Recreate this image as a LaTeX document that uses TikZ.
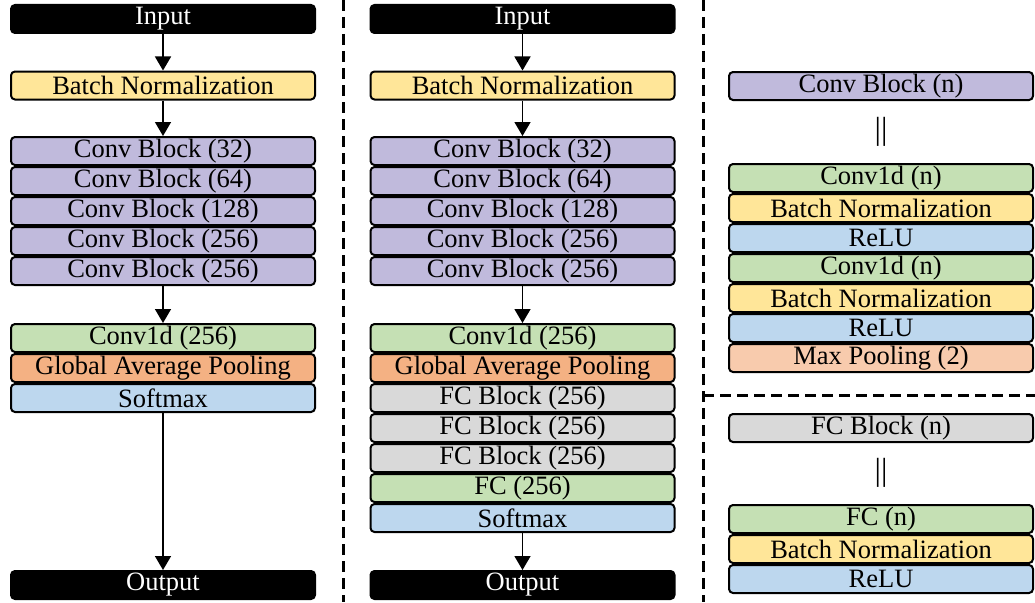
\documentclass[tikz,border=0pt]{standalone}
\usepackage{fontspec}
\setmainfont{Liberation Serif}
\newfontfamily\boxfont{Liberation Serif}
\usetikzlibrary{positioning}
\usetikzlibrary{arrows.meta}

\definecolor{cpurple}{RGB}{192,186,220}
\definecolor{cyellow}{RGB}{255,230,153}
\definecolor{cgreen}{RGB}{197,224,180}
\definecolor{corange}{RGB}{244,177,131}
\definecolor{cpeach}{RGB}{248,203,173}
\definecolor{cblue}{RGB}{189,215,238}
\definecolor{cgray}{RGB}{217,217,217}

\tikzset{blk/.style={draw, rounded corners=4pt, line width=2pt, minimum width=304pt,
    minimum height=28pt, inner sep=0pt, font=\boxfont\fontsize{26.5}{28}\selectfont}}
\tikzset{io/.style={blk, fill=black, text=white}}
\tikzset{conv/.style={blk, fill=cpurple}}
\tikzset{bn/.style={blk, fill=cyellow}}
\tikzset{lin/.style={blk, fill=cgreen}}
\tikzset{gap/.style={blk, fill=corange}}
\tikzset{pool/.style={blk, fill=cpeach}}
\tikzset{act/.style={blk, fill=cblue}}
\tikzset{fc/.style={blk, fill=cgray}}
\tikzset{flow/.style={-{Triangle[length=14pt,width=16pt]}, line width=1.5pt}}
\tikzset{sep/.style={line width=3pt, dash pattern=on 11pt off 6pt}}
\tikzset{eq/.style={inner sep=0pt, font=\boxfont\fontsize{32}{32}\selectfont}}

\begin{document}
\begin{tikzpicture}[x=1pt, y=-1pt]
\useasboundingbox (0,0) rectangle (1035,602);

% left network
\node[io] (in1) at (163,19) {Input};
\node[bn] (bn1) at (163,85.5) {Batch Normalization};
\node[conv] (c1a) at (163,151) {Conv Block (32)};
\node[conv] (c1b) [below=0pt of c1a] {Conv Block (64)};
\node[conv] (c1c) [below=0pt of c1b] {Conv Block (128)};
\node[conv] (c1d) [below=0pt of c1c] {Conv Block (256)};
\node[conv] (c1e) [below=0pt of c1d] {Conv Block (256)};
\node[lin] (cv1) at (163,338) {Conv1d (256)};
\node[gap] (gp1) [below=0pt of cv1] {Global Average Pooling};
\node[act] (sm1) [below=0pt of gp1] {Softmax};
\node[io] (out1) at (163,585) {Output};

\draw[flow] (in1) -- (bn1);
\draw[flow] (bn1) -- (c1a);
\draw[flow] (c1e) -- (cv1);
\draw[flow] (sm1) -- (out1);

% middle network
\node[io] (in2) at (522.5,19) {Input};
\node[bn] (bn2) at (522.5,85.5) {Batch Normalization};
\node[conv] (c2a) at (522.5,151) {Conv Block (32)};
\node[conv] (c2b) [below=0pt of c2a] {Conv Block (64)};
\node[conv] (c2c) [below=0pt of c2b] {Conv Block (128)};
\node[conv] (c2d) [below=0pt of c2c] {Conv Block (256)};
\node[conv] (c2e) [below=0pt of c2d] {Conv Block (256)};
\node[lin] (cv2) at (522.5,338) {Conv1d (256)};
\node[gap] (gp2) [below=0pt of cv2] {Global Average Pooling};
\node[fc] (f2a) [below=0pt of gp2] {FC Block (256)};
\node[fc] (f2b) [below=0pt of f2a] {FC Block (256)};
\node[fc] (f2c) [below=0pt of f2b] {FC Block (256)};
\node[lin] (fc2) [below=0pt of f2c] {FC (256)};
\node[act] (sm2) [below=0pt of fc2] {Softmax};
\node[io] (out2) at (522.5,585) {Output};

\draw[flow] (in2) -- (bn2);
\draw[flow] (bn2) -- (c2a);
\draw[flow] (c2e) -- (cv2);
\draw[flow] (sm2) -- (out2);

% conv block
\node[conv] (cb) at (881,86) {Conv Block (n)};
\node[eq] (eqc) at (881,132) {||};
\node[lin] (cbl1) at (881,178) {Conv1d (n)};
\node[bn] (cbn1) [below=0pt of cbl1] {Batch Normalization};
\node[act] (cbr1) [below=0pt of cbn1] {ReLU};
\node[lin] (cbl2) [below=0pt of cbr1] {Conv1d (n)};
\node[bn] (cbn2) [below=0pt of cbl2] {Batch Normalization};
\node[act] (cbr2) [below=0pt of cbn2] {ReLU};
\node[pool] (cbp) [below=0pt of cbr2] {Max Pooling (2)};

% fc block
\node[fc] (fb) at (881,428) {FC Block (n)};
\node[eq] (eqf) at (881,473) {||};
\node[lin] (fbl) at (881,519) {FC (n)};
\node[bn] (fbn) [below=0pt of fbl] {Batch Normalization};
\node[act] (fbr) [below=0pt of fbn] {ReLU};

% separators
\draw[sep] (343,0) -- (343,602);
\draw[sep] (703,0) -- (703,602);
\draw[sep] (703,395) -- (1035,395);
\end{tikzpicture}
\end{document}
